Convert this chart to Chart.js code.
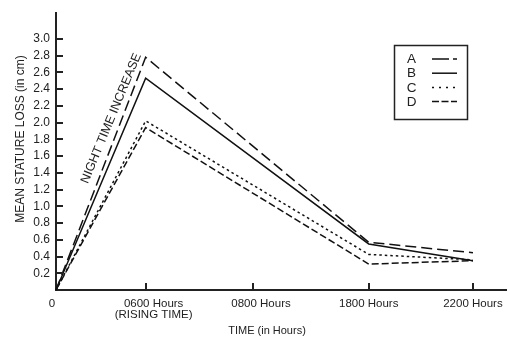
<!DOCTYPE html>
<html>
<head>
<meta charset="utf-8">
<script src="https://cdn.jsdelivr.net/npm/chart.js@4"></script>
<style>
  body { margin: 0; background: #fff; }
  canvas { display: block; }
</style>
</head>
<body>
<canvas id="chart" width="510" height="338"></canvas>
<script>
// categories along the time axis and where each sits on the axis
const xLabels = ["0", "0600 Hours", "0800 Hours", "1800 Hours", "2200 Hours"];
const xSubLabels = ["", "(RISING TIME)", "", "", ""];
const xSlots = [0, 0.86, 1.89, 3.0, 4.0];

// y tick labels
const yTicks = [0.2, 0.4, 0.6, 0.8, 1.0, 1.2, 1.4, 1.6, 1.8, 2.0, 2.2, 2.4, 2.6, 2.8, 3.0];

// mean stature loss (cm), no reading at 0800
const seriesA = [0, 2.78, null, 0.57, 0.445];
const seriesB = [0, 2.53, null, 0.55, 0.35];
const seriesC = [0, 2.02, null, 0.425, 0.36];
const seriesD = [0, 1.94, null, 0.31, 0.35];

const seriesNames = ["A", "B", "C", "D"];
const dashes = [[11, 5], [], [2.5, 3], [7, 3]];
const legendDashes = [[17, 4], [], [2, 5], [7, 2.5]];

const FONT = "'Liberation Sans', Arial, sans-serif";
const INK = "#222";

function toPoints(vals) {
  return vals.map((v, i) => ({ x: xSlots[i], y: v }));
}

const datasets = [seriesA, seriesB, seriesC, seriesD].map((vals, i) => ({
  label: seriesNames[i],
  data: toPoints(vals),
  borderColor: "#111",
  borderWidth: 1.5,
  borderDash: dashes[i],
  pointRadius: 0,
  spanGaps: true,
  tension: 0,
  clip: false,
}));

const extras = {
  id: "extras",
  afterDraw(chart) {
    const ctx = chart.ctx;
    const xs = chart.scales.x;
    const ys = chart.scales.y;
    const area = chart.chartArea;
    ctx.save();

    // inward tick marks
    ctx.strokeStyle = INK;
    ctx.lineWidth = 2;
    ctx.beginPath();
    yTicks.forEach((v) => {
      const py = Math.round(ys.getPixelForValue(v));
      ctx.moveTo(area.left, py);
      ctx.lineTo(area.left + 7, py);
    });
    xSlots.slice(1).forEach((v) => {
      const px = Math.round(xs.getPixelForValue(v));
      ctx.moveTo(px, area.bottom);
      ctx.lineTo(px, area.bottom - 7);
    });
    ctx.stroke();

    // x labels
    const nudge = [-4, 8, 8, 0, 0];
    ctx.fillStyle = INK;
    ctx.font = "11.5px " + FONT;
    ctx.textAlign = "center";
    ctx.textBaseline = "alphabetic";
    xLabels.forEach((lab, i) => {
      const px = xs.getPixelForValue(xSlots[i]) + nudge[i];
      ctx.fillText(lab, px, 307);
      if (xSubLabels[i]) ctx.fillText(xSubLabels[i], px, 317.5);
    });

    // axis titles
    ctx.font = "11px " + FONT;
    ctx.fillText("TIME (in Hours)", 267, 334);
    ctx.save();
    ctx.translate(24, 139);
    ctx.rotate(-Math.PI / 2);
    ctx.font = "12px " + FONT;
    ctx.fillText("MEAN STATURE LOSS (in cm)", 0, 0);
    ctx.restore();

    // annotation along the rising lines
    ctx.save();
    ctx.translate(xs.getPixelForValue(0.53), ys.getPixelForValue(2.05));
    ctx.rotate(-67.5 * Math.PI / 180);
    ctx.font = "12.5px " + FONT;
    ctx.textBaseline = "middle";
    ctx.fillText("NIGHT TIME INCREASE", 0, 0);
    ctx.restore();

    // legend box
    ctx.lineWidth = 1.5;
    ctx.strokeStyle = INK;
    ctx.setLineDash([]);
    ctx.strokeRect(394.5, 45.5, 73, 74);
    ctx.font = "13.5px " + FONT;
    ctx.textBaseline = "middle";
    seriesNames.forEach((name, i) => {
      const y = 59 + i * 14.2;
      ctx.fillStyle = INK;
      ctx.fillText(name, 411.5, y + 0.5);
      ctx.strokeStyle = "#111";
      ctx.lineWidth = 1.5;
      ctx.setLineDash(legendDashes[i]);
      ctx.beginPath();
      ctx.moveTo(432, y);
      ctx.lineTo(457, y);
      ctx.stroke();
    });
    ctx.restore();
  },
};

new Chart(document.getElementById("chart"), {
  type: "line",
  data: { datasets },
  options: {
    responsive: false,
    animation: false,
    devicePixelRatio: 1,
    layout: { padding: { top: 10, right: 4, left: 0, bottom: 0 } },
    plugins: {
      legend: { display: false },
      tooltip: { enabled: false },
    },
    scales: {
      x: {
        type: "linear",
        min: 0,
        max: 4.317,
        grid: { display: false, drawTicks: false },
        border: { display: true, color: INK, width: 2 },
        ticks: { display: false },
        afterFit(scale) { scale.height = 48; },
      },
      y: {
        min: 0,
        max: 3.306,
        grid: { display: false, drawTicks: false },
        border: { display: true, color: INK, width: 2 },
        afterBuildTicks(scale) {
          scale.ticks = yTicks.map((v) => ({ value: v }));
        },
        ticks: {
          padding: 6,
          color: INK,
          font: { family: FONT, size: 12 },
          callback: (v) => Number(v).toFixed(1),
        },
        afterFit(scale) { scale.width = 56; },
      },
    },
  },
  plugins: [extras],
});
</script>
</body>
</html>
